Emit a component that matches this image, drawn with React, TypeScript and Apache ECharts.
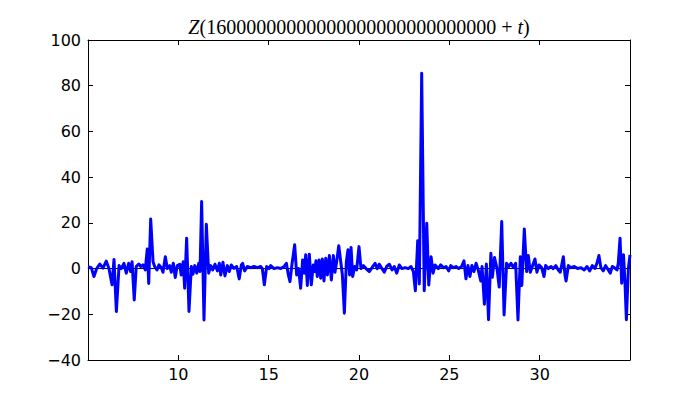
import React, { useEffect, useRef } from "react";
import * as echarts from "echarts";

const TITLE_NUMBER = "16000000000000000000000000000";

const T = [
  5.0, 5.18, 5.33, 5.48, 5.65, 5.83, 6.01, 6.16, 6.33, 6.44, 6.57, 6.72, 6.84, 6.99, 7.12, 7.25, 7.36, 7.44, 7.56, 7.67,
  7.81, 7.92, 8.04, 8.17, 8.28, 8.36, 8.47, 8.6, 8.69, 8.82, 8.93, 9.06, 9.15, 9.28, 9.39, 9.52, 9.61, 9.72, 9.83, 9.94,
  10.08, 10.16, 10.27, 10.35, 10.46, 10.59, 10.72, 10.81, 10.91, 11.02, 11.13, 11.2, 11.29, 11.42, 11.55, 11.68, 11.79, 11.9, 12.03, 12.16,
  12.27, 12.35, 12.47, 12.58, 12.71, 12.82, 12.93, 13.08, 13.23, 13.37, 13.49, 13.56, 13.67, 13.82, 14.01, 14.19, 14.37, 14.56, 14.65, 14.76,
  14.89, 15.02, 15.11, 15.3, 15.48, 15.67, 15.85, 15.98, 16.09, 16.18, 16.29, 16.44, 16.55, 16.66, 16.77, 16.88, 16.97, 17.05, 17.14, 17.25,
  17.36, 17.47, 17.55, 17.62, 17.69, 17.79, 17.88, 17.97, 18.06, 18.16, 18.25, 18.36, 18.47, 18.58, 18.67, 18.77, 18.88, 18.99, 19.08, 19.19,
  19.3, 19.39, 19.48, 19.56, 19.65, 19.76, 19.87, 20.0, 20.11, 20.24, 20.39, 20.57, 20.72, 20.89, 21.01, 21.12, 21.27, 21.4, 21.53, 21.68,
  21.83, 21.95, 22.09, 22.23, 22.38, 22.55, 22.73, 22.88, 23.01, 23.12, 23.25, 23.34, 23.47, 23.61, 23.75, 23.86, 23.99, 24.1, 24.21, 24.39,
  24.52, 24.67, 24.82, 24.96, 25.08, 25.22, 25.37, 25.52, 25.68, 25.81, 25.92, 26.03, 26.14, 26.25, 26.36, 26.48, 26.6, 26.74, 26.81, 26.94,
  27.05, 27.17, 27.3, 27.38, 27.5, 27.64, 27.76, 27.9, 28.03, 28.17, 28.3, 28.41, 28.54, 28.67, 28.8, 28.93, 29.01, 29.15, 29.28, 29.37,
  29.48, 29.59, 29.74, 29.85, 29.96, 30.11, 30.24, 30.33, 30.48, 30.63, 30.75, 30.89, 31.03, 31.14, 31.31, 31.4, 31.46, 31.59, 31.73, 31.92,
  32.1, 32.29, 32.47, 32.62, 32.77, 32.91, 33.06, 33.17, 33.28, 33.39, 33.52, 33.65, 33.8, 33.91, 34.02, 34.13, 34.28, 34.35, 34.45, 34.54,
  34.64, 34.72, 34.8, 34.91, 35.0,
];

const Z = [
  0.8, 0.4, -3.5, 0, 2, 0.2, 3.3, 0, -7.1, 4, -18.8, 1.3, 0, 2.3, -2, 2.3, -1.3, 3, -13.7, 0.9,
  2, 0.9, 1.6, -0.6, 8.6, -6.5, 21.7, 3, 0.9, -0.6, 1.6, 0.4, -1.6, 5.2, 0, 1.3, -1.6, 2.3, -3.9, 1.3,
  1.9, -2.8, 3, -8.6, 13.3, -18.8, 0.9, -2.5, 1.3, -2, 2.3, -1.3, 29.3, -22.5, 19.4, -2, 1.3, -0.6, 1.9, -1,
  2.3, -2.8, 2.8, -3.2, 1.3, -1.3, 1.6, 0.1, 0.9, -4.5, 1.6, 2.3, -1, 0.9, 0.4, 0.9, 0.4, 0.9, 0, -7.1,
  0.9, 0, 1.3, 0, 0.4, 0, 0.9, 2.3, -2.8, -5.7, 1.9, 10.4, -2.8, 0, -8.6, 3.8, -2, 6, -7.4, 6.3,
  -7.1, 1.6, -1.3, 3.4, -3.5, 3.8, -4.2, 4.2, -5.4, 4.5, -2.8, 5.7, -5, 5.7, -1.6, 3.4, 10, 3, -2.8, -19.5,
  3, 8.2, -2.8, 9.2, -3.5, 0.9, -0.6, 9.6, 0, 1.3, 0, -1.3, 0.4, 2.3, 0, 1.9, 0, -1.6, 0.9, 1.9,
  -0.6, 0.9, -2, 1.6, 0, 0.4, 0, 0.9, -1.3, -9.7, 12.2, -6.7, 85.4, -9.7, 19.8, -7.2, 5.2, -2, 1.6, 0,
  1.6, 0.4, 0.9, -1, 1.3, 0.4, 0.9, 0, 0.9, 3.4, -4.5, 1.3, -3.5, 1.3, -1.3, 2.3, -0.6, -5.4, 0.9, -15.6,
  2, -22.4, 6.7, -3.8, 4.8, 0, -8.1, 20.6, -20.3, 2.3, 0.9, 2.3, 0.5, 2.3, -22.5, 5.2, -7.4, 17.3, -1.3, 5.7,
  -1.6, 0.9, 4.2, -1.6, 1.6, 0.4, -3.5, 1.3, 0, 0.9, 0, 1.3, -0.6, -1.6, 5.2, -2.8, -5.4, 1.3, 0.4, 0.9,
  0, 0.4, -0.6, 0.9, -1, 1.3, 0.1, 2.3, 5.7, 0.4, -1, 1.3, -0.6, -2, 0.9, 0.4, -0.6, 2.3, 13.3, -6.4,
  6, -5.7, -22.4, 0, 6,
];

const X_MIN = 5;
const X_MAX = 35;
const X_STEP = 5;
const Y_MIN = -40;
const Y_MAX = 100;
const Y_STEP = 20;

export default function App() {
  const ref = useRef<HTMLDivElement>(null);

  useEffect(() => {
    if (!ref.current) return;
    const chart = echarts.init(ref.current, null, { renderer: "svg" });
    const data = T.map((t, i) => [t, Z[i]]);
    const axisFont = { fontFamily: "DejaVu Sans", fontSize: 16, color: "#000" };
    const line = { show: true, onZero: false, lineStyle: { color: "#000", width: 1 } };
    const tick = { show: true, inside: true, length: 5, lineStyle: { color: "#000", width: 1 } };
    const fmt = (v: number) => (v < 0 ? "\u2212" + String(-v) : String(v));

    chart.setOption({
      animation: false,
      backgroundColor: "#fff",
      grid: { left: 88, top: 40, width: 542, height: 320, containLabel: false },
      xAxis: [
        {
          type: "value",
          min: X_MIN,
          max: X_MAX,
          interval: X_STEP,
          position: "bottom",
          axisLine: line,
          axisTick: tick,
          splitLine: { show: false },
          axisLabel: { ...axisFont, margin: 6, showMinLabel: false, showMaxLabel: false, formatter: fmt },
        },
        {
          type: "value",
          min: X_MIN,
          max: X_MAX,
          interval: X_STEP,
          position: "top",
          axisLine: line,
          axisTick: tick,
          splitLine: { show: false },
          axisLabel: { show: false },
        },
      ],
      yAxis: [
        {
          type: "value",
          min: Y_MIN,
          max: Y_MAX,
          interval: Y_STEP,
          position: "left",
          axisLine: line,
          axisTick: tick,
          splitLine: { show: false },
          axisLabel: { ...axisFont, margin: 7, formatter: fmt },
        },
        {
          type: "value",
          min: Y_MIN,
          max: Y_MAX,
          interval: Y_STEP,
          position: "right",
          axisLine: line,
          axisTick: tick,
          splitLine: { show: false },
          axisLabel: { show: false },
        },
      ],
      series: [
        {
          type: "line",
          data: [[X_MIN, 0], [X_MAX, 0]],
          showSymbol: false,
          symbol: "none",
          lineStyle: { color: "#000", width: 1 },
          z: 1,
          silent: true,
        },
        {
          type: "line",
          data,
          showSymbol: false,
          symbol: "none",
          lineStyle: { color: "#0000ff", width: 3, join: "round" },
          z: 2,
        },
      ],
      graphic: [
        {
          type: "text",
          x: 359,
          y: 27,
          style: {
            text: "{i|Z}{n|(" + TITLE_NUMBER + "}{n| + }{i|t}{n|)}",
            align: "center",
            verticalAlign: "middle",
            rich: {
              i: { fontFamily: "Liberation Serif", fontStyle: "italic", fontSize: 20, fill: "#000" },
              n: { fontFamily: "Liberation Serif", fontSize: 20, fill: "#000" },
            },
          },
        },
      ],
    });
    return () => chart.dispose();
  }, []);

  return (
    <div
      ref={ref}
      style={{ position: "fixed", left: 0, top: 0, width: 700, height: 400, background: "#fff" }}
    />
  );
}
